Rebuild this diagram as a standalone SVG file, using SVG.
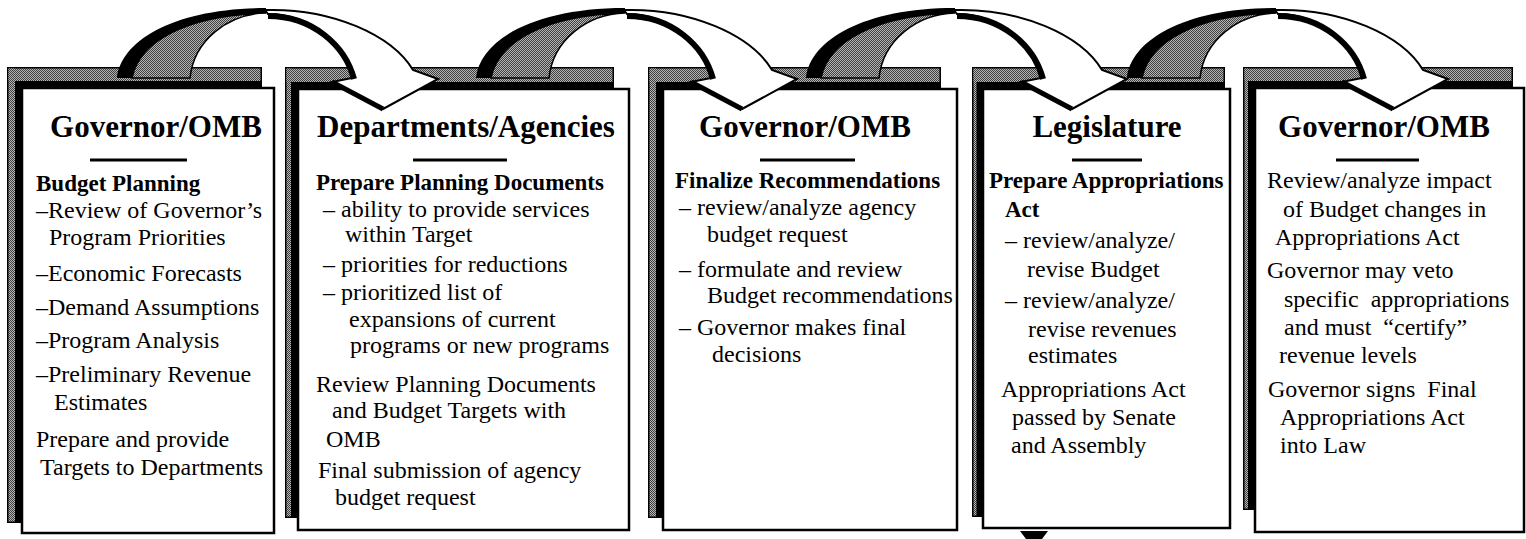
<svg xmlns="http://www.w3.org/2000/svg" xmlns:xlink="http://www.w3.org/1999/xlink" width="1526" height="539" viewBox="0 0 1526 539">
<style>
.t{font-family:"Liberation Serif","Times New Roman",serif;font-size:24px;fill:#000}
.b{font-weight:bold;font-size:23px}
.h{font-family:"Liberation Serif","Times New Roman",serif;font-weight:bold;font-size:31px;text-anchor:middle;fill:#000}
.box{fill:#fff;stroke:#000;stroke-width:2.5}
.sh{fill:#000}
.gr{fill:url(#ht)}
.ul{stroke:#000;stroke-width:3}
.pre{white-space:pre}
</style>
<defs>
<pattern id="ht" width="2" height="2" patternUnits="userSpaceOnUse">
<rect width="2" height="2" fill="#b4b4b4"/>
<rect width="1" height="1" fill="#404040"/>
<rect x="1" y="1" width="1" height="1" fill="#404040"/>
</pattern>
<g id="arrow">
<path d="M265,10 C332,8 392,35 413,70 L438,79 L383,109 L332,82 L352,78 C343,45 310,14 268,14 Z" fill="#fff" stroke="#000" stroke-width="2"/>
<path d="M354,79 C345,45 312,16 268,16" fill="none" stroke="#000" stroke-width="6"/>
<path d="M332,82 L383,109" stroke="#000" stroke-width="5"/>
<path d="M117,78 C121,40 175,8 266,8 L266,13 C185,15 140,42 132,78 Z" fill="#000"/>
<path d="M132,78 C139,42 185,15 266,13 C228,14 194,40 190,78 Z" fill="url(#ht)" stroke="#000" stroke-width="1.5"/>
</g>
</defs>
<rect width="1526" height="539" fill="#fff"/>

<g id="node1">
<rect class="sh" x="7" y="67" width="255" height="456"/>
<rect class="gr" x="8.5" y="68.5" width="252" height="12.5"/>
<rect class="gr" x="8.5" y="68.5" width="6.5" height="453"/>
<rect class="box" x="22" y="88" width="252" height="445"/>
<text class="h" x="156" y="137">Governor/OMB</text>
<line class="ul" x1="90" y1="160" x2="187" y2="160"/>
<text class="t b" x="36" y="191">Budget Planning</text>
<text class="t" x="36" y="218">–Review of Governor’s</text>
<text class="t" x="49" y="245">Program Priorities</text>
<text class="t" x="36" y="281">–Economic Forecasts</text>
<text class="t" x="36" y="315">–Demand Assumptions</text>
<text class="t" x="36" y="348">–Program Analysis</text>
<text class="t" x="36" y="382">–Preliminary Revenue</text>
<text class="t" x="54" y="410">Estimates</text>
<text class="t" x="36" y="447">Prepare and provide</text>
<text class="t" x="40" y="475">Targets to Departments</text>
</g>

<g id="node2">
<rect class="sh" x="285" y="67" width="329" height="451"/>
<rect class="gr" x="286.5" y="68.5" width="326" height="13.5"/>
<rect class="gr" x="286.5" y="68.5" width="4.5" height="448"/>
<rect class="box" x="298" y="89" width="331" height="441"/>
<text class="h" x="466" y="137">Departments/Agencies</text>
<line class="ul" x1="413" y1="160" x2="507" y2="160"/>
<text class="t b" x="316" y="190">Prepare Planning Documents</text>
<text class="t" x="323" y="217">– ability to provide services</text>
<text class="t" x="345" y="242">within Target</text>
<text class="t" x="323" y="272">– priorities for reductions</text>
<text class="t" x="323" y="300">– prioritized list of</text>
<text class="t" x="349" y="327">expansions of current</text>
<text class="t" x="350" y="353">programs or new programs</text>
<text class="t" x="316" y="392">Review Planning Documents</text>
<text class="t" x="332" y="418">and Budget Targets with</text>
<text class="t" x="326" y="447">OMB</text>
<text class="t" x="318" y="478">Final submission of agency</text>
<text class="t" x="335" y="505">budget request</text>
</g>

<g id="node3">
<rect class="sh" x="648" y="67" width="293" height="451"/>
<rect class="gr" x="649.5" y="68.5" width="290" height="13.5"/>
<rect class="gr" x="649.5" y="68.5" width="6.5" height="448"/>
<rect class="box" x="663" y="89" width="294" height="441"/>
<text class="h" x="805" y="137">Governor/OMB</text>
<line class="ul" x1="760" y1="160" x2="855" y2="160"/>
<text class="t b" x="675" y="188">Finalize Recommendations</text>
<text class="t" x="679" y="215">– review/analyze agency</text>
<text class="t" x="707" y="242">budget request</text>
<text class="t" x="679" y="277">– formulate and review</text>
<text class="t" x="707" y="303">Budget recommendations</text>
<text class="t" x="679" y="335">– Governor makes final</text>
<text class="t" x="712" y="362">decisions</text>
</g>

<g id="node4">
<rect class="sh" x="972" y="67" width="253" height="450"/>
<rect class="gr" x="973.5" y="68.5" width="250" height="13.5"/>
<rect class="gr" x="973.5" y="68.5" width="3" height="447"/>
<rect class="box" x="983" y="89" width="247" height="439"/>
<path d="M1020,531 L1048,531 L1042,539 L1026,539 Z" fill="#000"/>
<text class="h" x="1107" y="137">Legislature</text>
<line class="ul" x1="1072" y1="160" x2="1142" y2="160"/>
<text class="t b" x="989" y="188">Prepare Appropriations</text>
<text class="t b" x="1005" y="217">Act</text>
<text class="t" x="1005" y="248">– review/analyze/</text>
<text class="t" x="1027" y="277">revise Budget</text>
<text class="t" x="1005" y="308">– review/analyze/</text>
<text class="t" x="1028" y="337">revise revenues</text>
<text class="t" x="1028" y="363">estimates</text>
<text class="t" x="1001" y="397">Appropriations Act</text>
<text class="t" x="1012" y="425">passed by Senate</text>
<text class="t" x="1011" y="453">and Assembly</text>
</g>

<g id="node5">
<rect class="sh" x="1243" y="67" width="270" height="443"/>
<rect class="gr" x="1244.5" y="68.5" width="267" height="12.5"/>
<rect class="gr" x="1244.5" y="68.5" width="3.5" height="440"/>
<rect class="box" x="1255" y="88" width="269" height="444"/>
<text class="h" x="1384" y="137">Governor/OMB</text>
<line class="ul" x1="1336" y1="160" x2="1419" y2="160"/>
<text class="t" x="1267" y="188">Review/analyze impact</text>
<text class="t" x="1283" y="217">of Budget changes in</text>
<text class="t" x="1275" y="245">Appropriations Act</text>
<text class="t" x="1267" y="278">Governor may veto</text>
<text class="t pre" x="1284" y="307">specific  appropriations</text>
<text class="t pre" x="1284" y="335">and must  “certify”</text>
<text class="t" x="1279" y="363">revenue levels</text>
<text class="t pre" x="1268" y="397">Governor signs  Final</text>
<text class="t" x="1280" y="425">Appropriations Act</text>
<text class="t" x="1280" y="453">into Law</text>
</g>

<g id="connectors">
<use xlink:href="#arrow" href="#arrow" x="0" y="0"/>
<use xlink:href="#arrow" href="#arrow" x="359" y="0"/>
<use xlink:href="#arrow" href="#arrow" x="689" y="0"/>
<use xlink:href="#arrow" href="#arrow" x="1010" y="0"/>
</g>
</svg>
